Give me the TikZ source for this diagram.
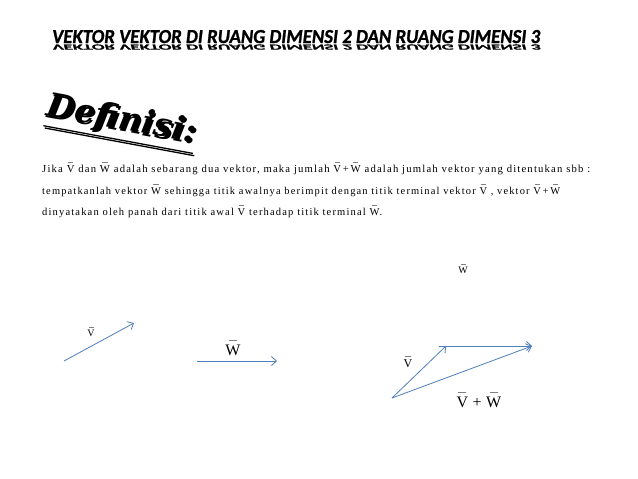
\documentclass[tikz,border=0pt]{standalone}
\usepackage{fontspec}
\usepackage{amsmath}
\usepackage{graphicx}
\usetikzlibrary{arrows.meta}
\setmainfont{Liberation Serif}
\newfontfamily\titlefont[FakeBold=1.2]{Carlito}
\newfontfamily\bodyfont[LetterSpace=11]{Liberation Serif}
\newfontfamily\deffont{DejaVu Serif}
\definecolor{navy}{HTML}{231C45}
\definecolor{arrowblue}{HTML}{4F7FBD}
\newcommand\vm[1]{\ensuremath{\overset{\raisebox{0.6pt}{\textcolor{gray}{\rule{0.5em}{0.35pt}}}}{\text{#1}}}}
\newsavebox\titlebox
\newsavebox\defbox
\sbox\titlebox{\resizebox{488pt}{13pt}{\titlefont\bfseries\itshape VEKTOR VEKTOR DI RUANG DIMENSI 2 DAN RUANG DIMENSI 3}}
\sbox\defbox{\resizebox{152pt}{!}{\deffont\bfseries\itshape\underline{Definisi:}}}
\tikzset{
  vecarrow/.style={draw=arrowblue, line width=0.8pt, -{Straight Barb[length=5pt,width=9pt]}},
  bodyline/.style={anchor=base west, inner sep=0pt},
  veclabel/.style={inner sep=0pt, font=\fontspec{Liberation Serif}}
}
\begin{document}
\begin{tikzpicture}[x=1pt,y=-1pt]
\useasboundingbox[fill=white] (0,0) rectangle (638,479);
% title with faint reflection
\node[anchor=base west, inner sep=0pt] (title) at (52,43)
  {\rlap{\raisebox{-1.5pt}{\textcolor{gray!10}{\scalebox{1}[-0.4]{\usebox\titlebox}}}}\textcolor{navy}{\usebox\titlebox}};
% Definisi with shadow
\node[rotate=-10.5, inner sep=0pt] (def) at (121,124)
  {\rlap{\hspace{1.8pt}\raisebox{-2pt}{\textcolor{gray!45}{\usebox\defbox}}}\usebox\defbox};
% body text
\node[bodyline] (l1) at (42,172)
  {\resizebox{548pt}{!}{\bodyfont\fontsize{10}{12}\selectfont Jika \vm{V} dan \vm{W} adalah sebarang dua vektor, maka jumlah \vm{V}\,+\,\vm{W} adalah jumlah vektor yang ditentukan sbb :}};
\node[bodyline] (l2) at (42,194)
  {\resizebox{518pt}{!}{\bodyfont\fontsize{10}{12}\selectfont tempatkanlah vektor \vm{W} sehingga titik awalnya berimpit dengan titik terminal vektor \vm{V} , vektor \vm{V}\,+\,\vm{W}}};
\node[bodyline] (l3) at (42,215)
  {\resizebox{340pt}{!}{\bodyfont\fontsize{10}{12}\selectfont dinyatakan oleh panah dari titik awal \vm{V} terhadap titik terminal \vm{W}.}};
% left vectors
\coordinate (v1s) at (64,361);
\coordinate (v1e) at (134,323);
\draw[vecarrow] (v1s) -- (v1e);
\node[veclabel, font=\fontsize{10}{12}\selectfont] (vlab) at (91,331) {\vm{V}};
\coordinate (w1s) at (197,361);
\coordinate (w1e) at (277,361);
\draw[vecarrow] (w1s) -- (w1e);
\node[veclabel, font=\fontsize{16}{18}\selectfont] (wlab) at (233,347) {\vm{W}};
% right triangle
\coordinate (o) at (392,398);
\coordinate (p) at (446,346);
\coordinate (q) at (532,346);
\draw[vecarrow] (o) -- (p);
\draw[vecarrow] (p) -- (q);
\draw[vecarrow] (o) -- (q);
\node[veclabel, font=\fontsize{10}{12}\selectfont] (wsmall) at (463,268) {\vm{W}};
\node[veclabel, font=\fontsize{12}{14}\selectfont] (vright) at (408,361) {\vm{V}};
\node[veclabel, font=\fontsize{16}{18}\selectfont] (vw) at (479,399) {\vm{V}\;+\;\vm{W}};
\end{tikzpicture}
\end{document}
